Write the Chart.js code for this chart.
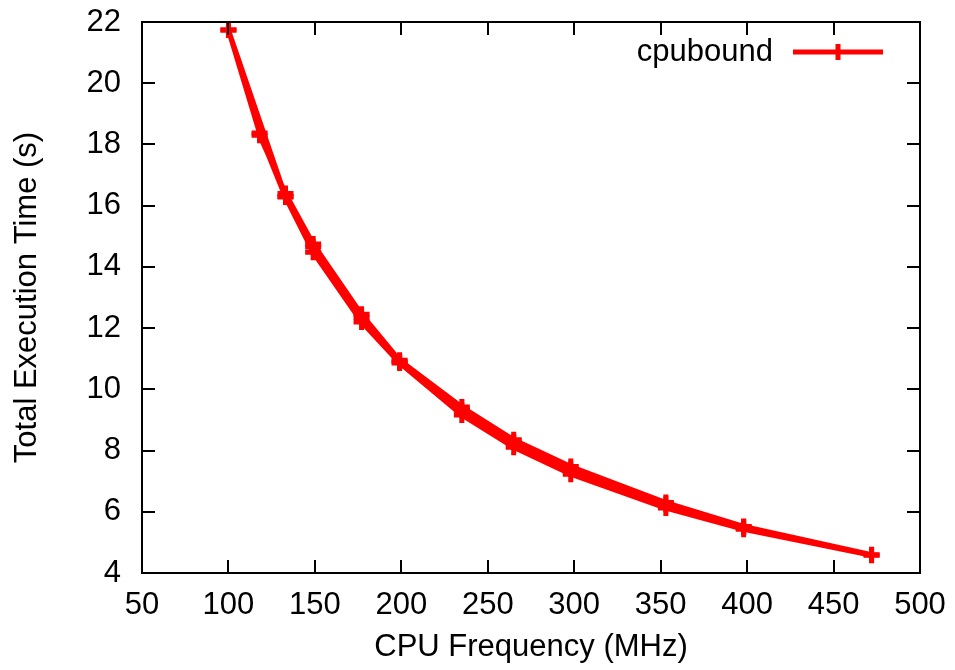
<!DOCTYPE html>
<html>
<head>
<meta charset="utf-8">
<script src="https://cdn.jsdelivr.net/npm/chart.js@4/dist/chart.umd.min.js"></script>
<style>
  html, body { margin: 0; padding: 0; background: #fff; }
  #chart { display: block; }
</style>
</head>
<body>
<canvas id="chart" width="955" height="670"></canvas>
<script>
// three measurement runs, each drawn as its own stretch of the same line
var freqRunA = [100, 118, 133, 149, 177, 199, 235, 265, 298, 353, 398, 472];
var timeRunA = [21.74, 18.37, 16.28, 14.48, 12.2, 10.86, 9.16, 8.11, 7.23, 6.12, 5.43, 4.58];

var freqRunB = [100, 133, 149, 177, 199, 235, 265, 298, 353, 398];
var timeRunB = [21.74, 16.3, 14.65, 12.35, 10.9, 9.32, 8.28, 7.4, 6.25, 5.5];

var freqRunC = [118, 133, 149, 177, 199, 235, 265, 298, 353, 398, 472];
var timeRunC = [18.3, 16.4, 14.75, 12.45, 10.95, 9.42, 8.35, 7.48, 6.3, 5.52, 4.6];

var xMin = 50, xMax = 500, xStep = 50;
var yMin = 4, yMax = 22, yStep = 2;

var seriesName = 'cpubound';
var xTitle = 'CPU Frequency (MHz)';
var yTitle = 'Total Execution Time (s)';

var red = '#ff0000';
var fontFamily = '"Liberation Sans", Arial, Helvetica, sans-serif';
var fontSize = 31;

function toPoints(freqs, times) {
    return freqs.map(function(f, i) { return { x: f, y: times[i] }; });
}

// a null point breaks the line between runs
var points = []
    .concat(toPoints(freqRunA, timeRunA), [{ x: NaN, y: null }])
    .concat(toPoints(freqRunB, timeRunB), [{ x: NaN, y: null }])
    .concat(toPoints(freqRunC, timeRunC));

// frame with inward ticks on all four sides, gnuplot style
var framePlugin = {
    id: 'frame',
    afterDatasetsDraw: function(chart) {
        var ctx = chart.ctx,
            area = chart.chartArea,
            xs = chart.scales.x,
            ys = chart.scales.y,
            tick = 13;

        ctx.save();
        ctx.strokeStyle = '#000';
        ctx.lineWidth = 2;
        ctx.beginPath();
        xs.ticks.forEach(function(t) {
            var px = Math.round(xs.getPixelForValue(t.value));
            ctx.moveTo(px, area.bottom);
            ctx.lineTo(px, area.bottom - tick);
            ctx.moveTo(px, area.top);
            ctx.lineTo(px, area.top + tick);
        });
        ys.ticks.forEach(function(t) {
            var py = Math.round(ys.getPixelForValue(t.value));
            ctx.moveTo(area.left, py);
            ctx.lineTo(area.left + tick, py);
            ctx.moveTo(area.right, py);
            ctx.lineTo(area.right - tick, py);
        });
        ctx.stroke();
        ctx.strokeRect(area.left, area.top, area.right - area.left, area.bottom - area.top);
        ctx.restore();
    }
};

// key in the top right corner: text first, then the line sample
var keyPlugin = {
    id: 'key',
    afterDraw: function(chart) {
        var ctx = chart.ctx,
            area = chart.chartArea,
            y = area.top + 30,
            lineEnd = area.right - 37,
            lineStart = lineEnd - 90,
            mid = (lineStart + lineEnd) / 2;

        ctx.save();
        ctx.font = fontSize + 'px ' + fontFamily;
        ctx.fillStyle = '#000';
        ctx.textAlign = 'right';
        ctx.textBaseline = 'middle';
        ctx.fillText(seriesName, lineStart - 20, y);

        ctx.strokeStyle = red;
        ctx.lineWidth = 5;
        ctx.beginPath();
        ctx.moveTo(lineStart, y);
        ctx.lineTo(lineEnd, y);
        ctx.stroke();

        ctx.lineWidth = 5;
        ctx.beginPath();
        ctx.moveTo(mid, y - 8);
        ctx.lineTo(mid, y + 8);
        ctx.stroke();
        ctx.restore();
    }
};

// fixed axis box sizes; drop the edge padding the tick labels would add
function fixX(scale) {
    scale.height = 97;
    scale.paddingLeft = 0;
    scale.paddingRight = 0;
}
function fixY(scale) {
    scale.width = 142;
    scale.paddingTop = 0;
    scale.paddingBottom = 0;
}

var tickFont = { family: fontFamily, size: fontSize };

var chart = new Chart(document.getElementById('chart'), {
    type: 'line',
    data: {
        datasets: [{
            label: seriesName,
            data: points,
            borderColor: red,
            backgroundColor: red,
            borderWidth: 5,
            pointStyle: 'cross',
            pointRadius: 8,
            pointBorderWidth: 5,
            pointBorderColor: red,
            spanGaps: false,
            tension: 0
        }]
    },
    options: {
        responsive: false,
        animation: false,
        events: [],
        layout: { padding: { top: 22, right: 35, left: 0, bottom: 0 } },
        plugins: {
            legend: { display: false },
            tooltip: { enabled: false }
        },
        scales: {
            x: {
                type: 'linear',
                min: xMin,
                max: xMax,
                grid: { display: false, drawTicks: false },
                border: { display: false },
                ticks: {
                    stepSize: xStep,
                    color: '#000',
                    font: tickFont,
                    padding: 14,
                    maxRotation: 0,
                    autoSkip: false
                },
                title: {
                    display: true,
                    text: xTitle,
                    color: '#000',
                    font: tickFont,
                    padding: { top: 4, bottom: 4 }
                },
                afterFit: fixX
            },
            y: {
                type: 'linear',
                min: yMin,
                max: yMax,
                grid: { display: false, drawTicks: false },
                border: { display: false },
                ticks: {
                    stepSize: yStep,
                    color: '#000',
                    font: tickFont,
                    padding: 21,
                    autoSkip: false
                },
                title: {
                    display: true,
                    text: yTitle,
                    color: '#000',
                    font: tickFont,
                    padding: { top: 9, bottom: 0 }
                },
                afterFit: fixY
            }
        }
    },
    plugins: [framePlugin, keyPlugin]
});
</script>
</body>
</html>
